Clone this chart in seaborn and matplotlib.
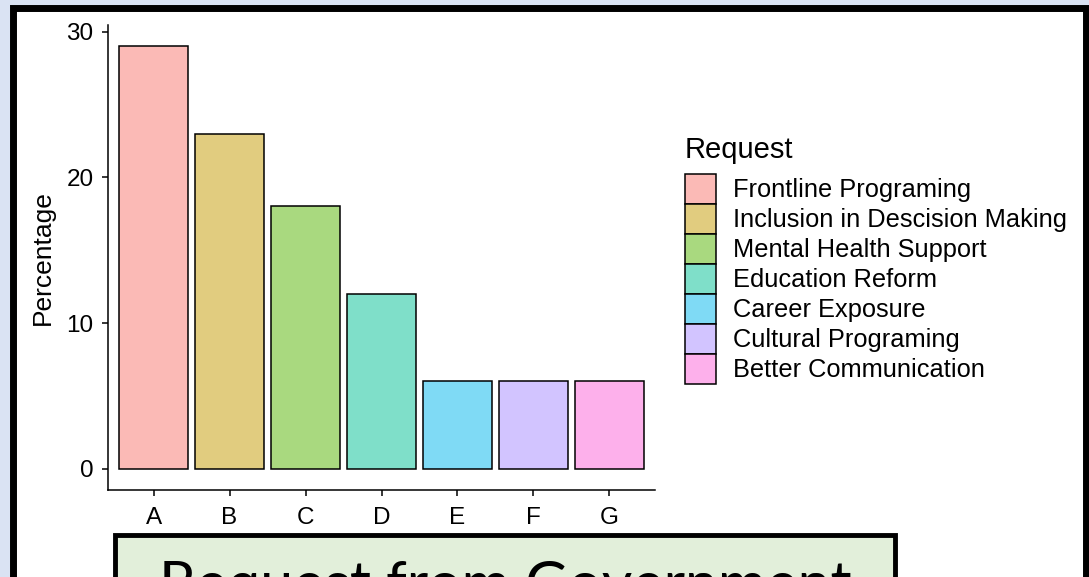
import matplotlib
matplotlib.use('Agg')
import matplotlib.pyplot as plt
from matplotlib.patches import Rectangle, Patch
import seaborn as sns
import pandas as pd

# data
codes = ['A', 'B', 'C', 'D', 'E', 'F', 'G']
requests = ['Frontline Programing', 'Inclusion in Descision Making', 'Mental Health Support',
            'Education Reform', 'Career Exposure', 'Cultural Programing', 'Better Communication']
percentages = [29, 23, 18, 12, 6, 6, 6]

# ggplot hue palette at half alpha on white
bar_colors = ['#fbbab6', '#e1cc7f', '#a9d97f', '#7fdfc9', '#7fdaf5', '#d2c4ff', '#fdb0eb']

W, H = 1089, 577

sns.set_theme(style='white', rc={'text.color': 'black', 'axes.labelcolor': 'black'})
plt.rcParams['font.family'] = ['Liberation Sans', 'DejaVu Sans']

df = pd.DataFrame({'code': codes, 'request': requests, 'pct': percentages})

fig = plt.figure(figsize=(W / 100, H / 100), dpi=100)
fig.patch.set_facecolor('#dae3f3')

# slide frame
fig.patches.append(Rectangle((13 / W, -0.05), (1086 - 13) / W, 1 - 7.5 / H + 0.05,
                             transform=fig.transFigure, facecolor='white', edgecolor='black',
                             linewidth=5, zorder=-5))

ax = fig.add_axes([108 / W, 1 - 490 / H, (655 - 108) / W, (490 - 25) / H])
ax.set_facecolor('white')
ax.set_zorder(1)

sns.barplot(data=df, x='code', y='pct', hue='request', hue_order=requests, palette=bar_colors,
            saturation=1, dodge=False, width=0.9, edgecolor='black', linewidth=1.1,
            legend=False, ax=ax)

ax.set_xlim(-0.6, 6.6)
ax.set_ylim(-1.45, 30.45)
ax.set_yticks([0, 10, 20, 30])
ax.set_xlabel('')
ax.set_ylabel('Percentage', fontsize=19, labelpad=8, color='black')
sns.despine(ax=ax)
for s in ['left', 'bottom']:
    ax.spines[s].set_linewidth(1.1)
    ax.spines[s].set_color('black')
ax.tick_params(axis='both', which='major', labelsize=17.5, length=4.5, width=1.1,
               color='black', labelcolor='black', left=True, bottom=True)
ax.tick_params(axis='x', pad=7.5)
ax.tick_params(axis='y', pad=6)

handles = [Patch(facecolor=c, edgecolor='black', linewidth=1.1) for c in bar_colors]
leg = ax.legend(handles, requests, title='Request', loc='upper left',
                bbox_to_anchor=(685 / W, 1 - 136 / H), bbox_transform=fig.transFigure,
                frameon=False, fontsize=18.3, title_fontsize=21, borderpad=0, borderaxespad=0,
                handlelength=1.2, handleheight=1.44, labelspacing=0.0, handletextpad=0.7,
                labelcolor='black')
leg.get_title().set_color('black')
leg._legend_box.align = 'left'
leg._legend_box.sep = 7

# caption box at the bottom of the slide
fig.patches.append(Rectangle((114.5 / W, -0.1), (895 - 114.5) / W, 1 - 534.5 / H + 0.1,
                             transform=fig.transFigure, facecolor='#e2efda', edgecolor='black',
                             linewidth=3.5, zorder=5))
fig.text(159 / W, 1 - 603 / H, 'Request from Government', fontsize=42.5, family=['Lato', 'DejaVu Sans'],
         color='black', ha='left', va='baseline', zorder=6)

fig.savefig('out.png', dpi=100, facecolor=fig.get_facecolor())
